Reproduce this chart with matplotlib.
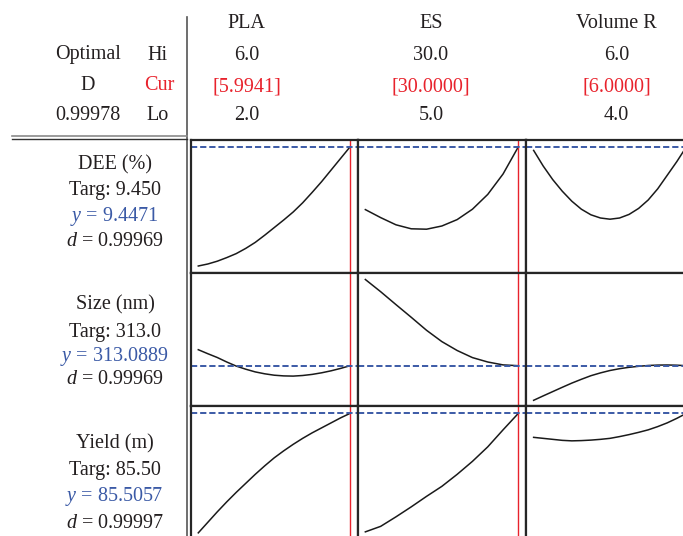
import matplotlib
matplotlib.use("Agg")
import matplotlib.pyplot as plt
from matplotlib.lines import Line2D

plt.rcParams["font.family"] = ["Liberation Serif", "DejaVu Serif"]
plt.rcParams["mathtext.fontset"] = "custom"
plt.rcParams["mathtext.rm"] = "Liberation Serif"
plt.rcParams["mathtext.it"] = "Liberation Serif:italic"

# factors: name, high, current, low
factors = ["PLA", "ES", "Volume R"]
factor_hi = ["6.0", "30.0", "6.0"]
factor_cur = ["[5.9941]", "[30.0000]", "[6.0000]"]
factor_lo = ["2.0", "5.0", "4.0"]
factor_range = [(2.0, 6.0), (5.0, 30.0), (4.0, 6.0)]
factor_current = [5.9941, 30.0, 6.0]

# x grids for the response traces
pla = [2.0, 2.25, 2.5, 2.75, 3.0, 3.25, 3.5, 3.75, 4.0,
       4.25, 4.5, 4.75, 5.0, 5.25, 5.5, 5.75, 6.0]
es = [5.0, 7.5, 10.0, 12.5, 15.0, 17.5, 20.0, 22.5, 25.0, 27.5, 30.0]
vr = [4.0, 4.125, 4.25, 4.375, 4.5, 4.625, 4.75, 4.875, 5.0,
      5.125, 5.25, 5.375, 5.5, 5.625, 5.75, 5.875, 6.0]

# responses
responses = ["DEE (%)", "Size (nm)", "Yield (m)"]
targets = ["Targ: 9.450", "Targ: 313.0", "Targ: 85.50"]
y_pred = [9.4471, 313.0889, 85.5057]
d_vals = ["0.99969", "0.99969", "0.99997"]

dee_pla = [6.47, 6.52, 6.59, 6.68, 6.78, 6.91, 7.06, 7.24, 7.43,
           7.62, 7.82, 8.05, 8.31, 8.58, 8.87, 9.16, 9.45]
dee_es = [7.88, 7.68, 7.50, 7.40, 7.39, 7.47, 7.63, 7.89, 8.26, 8.77, 9.45]
dee_vr = [9.36, 8.97, 8.63, 8.34, 8.09, 7.89, 7.75, 7.67, 7.64,
          7.67, 7.76, 7.91, 8.12, 8.40, 8.74, 9.08, 9.45]

size_pla = [329.1, 325.1, 321.3, 316.8, 312.7, 309.6, 306.9, 305.0, 303.6,
            302.9, 302.7, 303.3, 304.4, 306.0, 308.0, 310.4, 313.1]
size_es = [399.3, 387.1, 374.2, 361.5, 348.5, 337.2, 328.3, 321.2, 316.8, 313.9, 313.1]
size_vr = [278.5, 282.9, 287.2, 291.5, 295.7, 299.5, 303.1, 305.9, 308.3,
           310.1, 311.5, 312.5, 313.3, 313.7, 313.8, 313.6, 313.1]

yield_pla = [61.6, 63.7, 65.8, 67.8, 69.7, 71.5, 73.3, 75.0, 76.6,
             78.0, 79.3, 80.5, 81.6, 82.6, 83.6, 84.6, 85.5]
yield_es = [61.8, 62.9, 64.8, 66.8, 68.9, 70.9, 73.3, 75.9, 78.8, 82.2, 85.5]
yield_vr = [80.7, 80.5, 80.3, 80.1, 80.0, 80.05, 80.15, 80.3, 80.5,
            80.85, 81.25, 81.7, 82.2, 82.85, 83.6, 84.5, 85.5]

xs = [pla, es, vr]
traces = [[dee_pla, dee_es, dee_vr],
          [size_pla, size_es, size_vr],
          [yield_pla, yield_es, yield_vr]]
ylims = [(6.295, 9.62), (272.8, 405.8), (60.37, 86.97)]

W, H = 683, 536
RED = "#e8222c"
BLUE = "#3b5aa6"
INK = "#231f20"
FS = 14.5
DY = 2.0  # text nudge downward, px

fig = plt.figure(figsize=(W / 100, H / 100), dpi=100)


def fx(x):
    return x / W


def fy(y):
    return 1 - y / H


def label(x, y, s, color=INK):
    fig.text(fx(x), fy(y + DY), s, ha="center", va="center", fontsize=FS, color=color)


col_edges = [(190.7, 357.7), (357.7, 526.0), (526.0, 694.0)]
row_edges = [(140.0, 273.0), (273.0, 406.0), (406.0, 539.0)]

for r, (y0, y1) in enumerate(row_edges):
    for c, (x0, x1) in enumerate(col_edges):
        ax = fig.add_axes([fx(x0), fy(y1), (x1 - x0) / W, (y1 - y0) / H])
        lo, hi = factor_range[c]
        pad = (hi - lo) * 0.05
        ax.set_xlim(lo - pad, hi + pad)
        ax.set_ylim(*ylims[r])
        ax.plot(xs[c], traces[r][c], color="#1a1a1a", lw=1.1,
                solid_joinstyle="round")
        ax.axvline(factor_current[c], color=RED, lw=1.0)
        ax.axhline(y_pred[r], color=BLUE, lw=1.4, ls=(0, (3.2, 1.5)))
        ax.set_xticks([])
        ax.set_yticks([])
        for s in ax.spines.values():
            s.set_linewidth(1.6)
            s.set_color("#262626")

# header lines
fig.add_artist(Line2D([fx(186.8), fx(186.8)], [fy(17), fy(536)],
                      color="#555555", lw=1.2))
fig.add_artist(Line2D([fx(12), fx(187)], [fy(136.0), fy(136.0)],
                      color="#8a8a8a", lw=1.2))
fig.add_artist(Line2D([fx(12), fx(187)], [fy(138.8), fy(138.8)],
                      color="#333333", lw=1.0))

# header texts
head_x = [246.5, 431.0, 616.5]
for i in range(3):
    label(head_x[i], 21.5, factors[i])
    label(head_x[i], 53.5, factor_hi[i])
    label(head_x[i], 85, factor_cur[i], RED)
    label(head_x[i], 113.5, factor_lo[i])

label(88, 53, "Optimal")
label(88, 84, "D")
label(88, 113.5, "0.99978")
label(158, 53, "Hi")
label(159, 84, "Cur", RED)
label(158, 113.5, "Lo")

# response labels
label_y = [(163, 189, 215, 240), (303, 330, 355, 378), (442, 468, 495, 521)]
for r in range(3):
    ly = label_y[r]
    label(115, ly[0], responses[r])
    label(115, ly[1], targets[r])
    label(114, ly[2], "$y$ = " + f"{y_pred[r]:.4f}", BLUE)
    label(115, ly[3], "$d$ = " + d_vals[r])

fig.savefig("out.png", dpi=100)
